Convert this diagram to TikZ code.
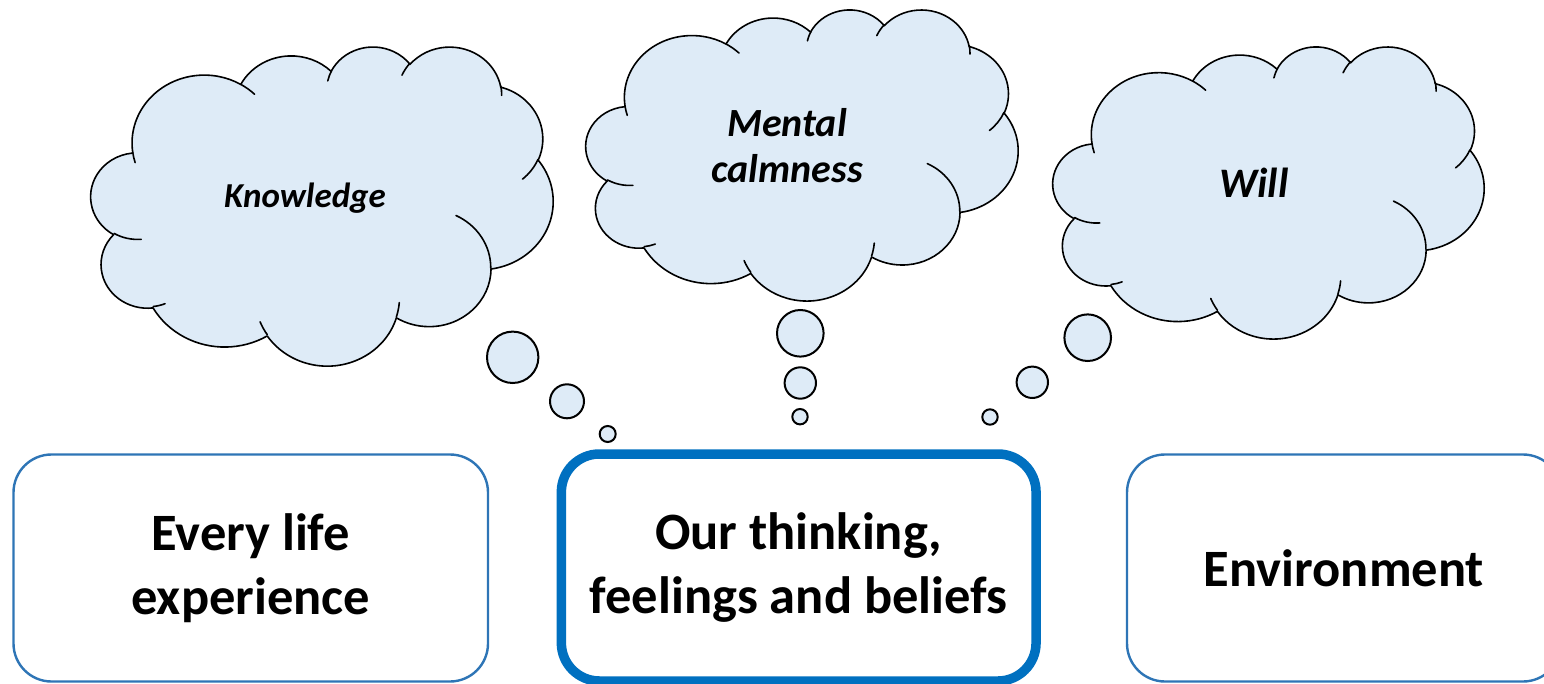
\documentclass[tikz,border=0pt]{standalone}
\usepackage{fontspec}
\setmainfont{Carlito}

\definecolor{cloudblue}{HTML}{DEEBF7}
\definecolor{framethin}{HTML}{2E75B6}
\definecolor{framethick}{HTML}{0070C0}

% Arc of the cloud outline: radii in units of 1/1000 of the shape box,
% angles measured as directions from the arc's centre in the unit box
% (converted to the parametric angles TikZ expects).
\tikzset{
  declare function={
    vpar(\a,\p,\q)=atan2(\p*sin(\a),\q*cos(\a));
    dpar(\a,\s,\p,\q)=(vpar(\a+\s,\p,\q)-vpar(\a,\p,\q))
      +360*round((\s-(vpar(\a+\s,\p,\q)-vpar(\a,\p,\q)))/360);
  }
}
\newcommand\carc[4]{arc[x radius=#1, y radius=#2,
  start angle={vpar(#3,#1,#2)},
  delta angle={dpar(#3,#4,#1,#2)}]}

% Cloud filling the box with top-left corner (#1,#2), width #3, height #4
\newcommand\thoughtcloud[4]{%
  \begin{scope}[shift={(#1,#2)}, xscale=#3/43.2, yscale=#4/43.2]
    \path[cloudbody] (3.9,14.37)
      \carc{6.753}{9.190}{-190.4875}{123.7805}
      \carc{5.333}{7.267}{-144.1024}{89.9452}
      \carc{4.365}{5.945}{-145.8079}{99.7230}
      \carc{4.857}{6.595}{-130.9861}{117.2417}
      \carc{5.333}{7.273}{-78.7089}{109.0269}
      \carc{6.775}{9.220}{-46.2673}{130.2690}
      \carc{5.785}{7.867}{0.6250}{114.0333}
      \carc{6.752}{9.215}{22.4516}{115.1726}
      \carc{7.720}{10.543}{66.2426}{75.7110}
      \carc{4.360}{5.918}{-274.9421}{146.7356}
      \carc{4.345}{5.945}{-246.8285}{152.5189}
      -- cycle;
    \path[cloudhook]
      (4.693,26.177) \carc{4.345}{5.945}{86.742}{26.4295}
      (6.928,34.899) \carc{4.360}{5.918}{73.6105}{11.4475}
      (16.478,39.090) \carc{6.752}{9.215}{137.6242}{14.0811}
      (28.827,34.751) \carc{6.752}{9.215}{6.4533}{15.9984}
      (34.129,22.954) \carc{5.785}{7.867}{-70.2924}{70.9174}
      (41.798,15.354) \carc{5.333}{7.273}{30.3180}{27.7515}
      (38.324,5.426) \carc{4.857}{6.595}{-13.7443}{14.8589}
      (29.078,3.952) \carc{4.857}{6.595}{-149.1815}{18.1954}
      (22.141,4.720) \carc{4.365}{5.945}{-163.4943}{17.6864}
      (14.000,5.192) \carc{6.753}{9.190}{-66.7070}{12.3194}
      (4.127,15.789) \carc{6.753}{9.190}{157.6544}{11.8582};
  \end{scope}}

\begin{document}
\begin{tikzpicture}[x=1pt, y=-1pt,
  cloudbody/.style={fill=cloudblue, draw=black, line width=1.6pt, line join=round},
  cloudhook/.style={draw=black, line width=1.6pt, line cap=round},
  bubble/.style={circle, draw=black, fill=cloudblue, line width=2pt, inner sep=0pt},
  thinbox/.style={rectangle, rounded corners=38pt, draw=framethin, line width=2.4pt,
    fill=white, align=center, inner sep=0pt,
    font=\fontsize{52.5}{64}\selectfont\bfseries},
  thickbox/.style={thinbox, draw=framethick, line width=9.5pt},
  thought/.style={align=center, inner sep=0pt, anchor=base}]

\useasboundingbox (0,0) rectangle (1544,684);
\clip (0,0) rectangle (1544,684);

% thought clouds
\thoughtcloud{91}{46}{462}{319}
\thoughtcloud{586}{9}{432}{291}
\thoughtcloud{1053}{46}{431}{292}

\node[thought, font=\fontsize{35}{42}\selectfont\bfseries\itshape] (knowledge) at (305,208) {Knowledge};
\node[thought, font=\fontsize{40}{46}\selectfont\bfseries\itshape] (calm) at (787,183) {Mental\\calmness};
\node[thought, font=\fontsize{42}{48}\selectfont\bfseries\itshape] (will) at (1254,198) {Will};

% trailing bubbles
\node[bubble, minimum size=51.4pt] (kb1) at (512.7,357.3) {};
\node[bubble, minimum size=34pt]   (kb2) at (567,401.3) {};
\node[bubble, minimum size=16pt]   (kb3) at (607.7,434) {};

\node[bubble, minimum size=46.6pt] (cb1) at (800.3,333.3) {};
\node[bubble, minimum size=31.4pt] (cb2) at (800.3,383) {};
\node[bubble, minimum size=15.4pt] (cb3) at (800,416.7) {};

\node[bubble, minimum size=46.6pt] (wb1) at (1087.7,337.7) {};
\node[bubble, minimum size=31.4pt] (wb2) at (1032.3,382.3) {};
\node[bubble, minimum size=15.4pt] (wb3) at (990,417) {};

% boxes
\node[thinbox, minimum width=474.5pt, minimum height=227pt] (life) at (250.75,568) {Every life\\experience};
\node[thickbox, minimum width=474.7pt, minimum height=227pt] (self) at (798.7,567.5) {Our thinking,\\feelings and beliefs};
\node[thinbox, minimum width=434pt, minimum height=227pt] (env) at (1344,568) {Environment};
\end{tikzpicture}
\end{document}
